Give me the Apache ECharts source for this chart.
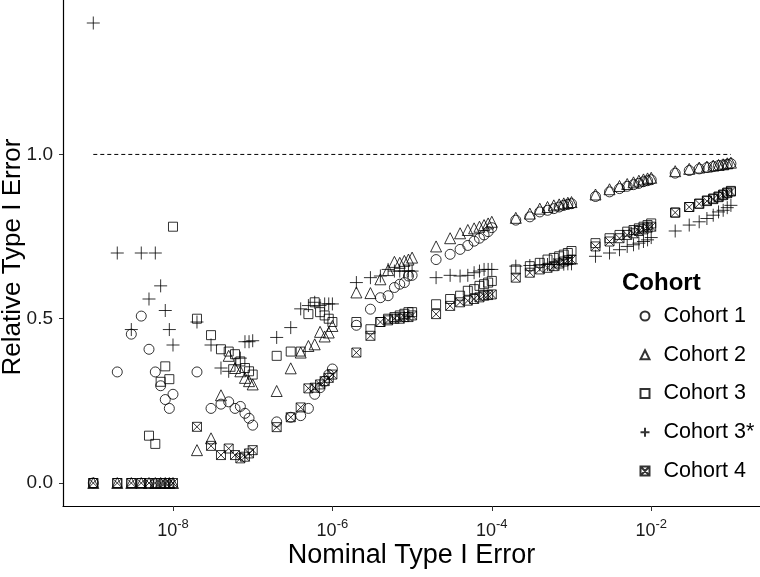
<!DOCTYPE html>
<html><head><meta charset="utf-8">
<script src="https://cdn.jsdelivr.net/npm/echarts@6/dist/echarts.min.js"></script>
<style>html,body{margin:0;padding:0;background:#fff}#c{width:760px;height:577px}</style>
</head><body><div id="c"></div>
<script>
const nominal = [
  1e-9,2e-9,3e-9,4e-9,5e-9,6e-9,7e-9,8e-9,9e-9,
  1e-8,2e-8,3e-8,4e-8,5e-8,6e-8,7e-8,8e-8,9e-8,
  1e-7,2e-7,3e-7,4e-7,5e-7,6e-7,7e-7,8e-7,9e-7,
  1e-6,2e-6,3e-6,4e-6,5e-6,6e-6,7e-6,8e-6,9e-6,
  1e-5,2e-5,3e-5,4e-5,5e-5,6e-5,7e-5,8e-5,9e-5,
  1e-4,2e-4,3e-4,4e-4,5e-4,6e-4,7e-4,8e-4,9e-4,
  1e-3,2e-3,3e-3,4e-3,5e-3,6e-3,7e-3,8e-3,9e-3,
  1e-2,2e-2,3e-2,4e-2,5e-2,6e-2,7e-2,8e-2,9e-2,
  1e-1
];
const cohort1 = [
  0,0.338,0.453,0.508,0.407,0.338,0.296,0.254,0.227,
  0.27,0.338,0.227,0.24,0.247,0.227,0.233,0.212,0.197,
  0.176,0.186,0.20,0.205,0.227,0.27,0.29,0.31,0.33,
  0.347,0.48,0.529,0.564,0.57,0.595,0.605,0.61,0.63,
  0.632,0.68,0.696,0.711,0.723,0.736,0.745,0.755,0.765,
  0.777,0.80,0.81,0.825,0.83,0.835,0.84,0.845,0.848,
  0.85,0.872,0.886,0.896,0.903,0.908,0.912,0.917,0.92,
  0.923,0.943,0.951,0.956,0.96,0.963,0.966,0.968,0.97,
  0.972
];
const cohort2 = [
  0,0,0,0,0,0,0,0,0,
  0,0.10,0.136,0.267,0.387,0.35,0.34,0.32,0.31,
  0.30,0.28,0.349,0.397,0.417,0.422,0.46,0.446,0.458,
  0.478,0.58,0.578,0.62,0.648,0.673,0.67,0.676,0.68,
  0.686,0.72,0.745,0.76,0.77,0.775,0.78,0.785,0.79,
  0.795,0.807,0.82,0.835,0.84,0.845,0.848,0.851,0.853,
  0.855,0.878,0.894,0.904,0.91,0.915,0.92,0.924,0.927,
  0.929,0.949,0.956,0.96,0.963,0.966,0.968,0.97,0.973,
  0.975
];
const cohort3 = [
  0,0,0,0,0.144,0.119,0.308,0.355,0.316,
  0.78,0.50,0.45,0.407,0.40,0.392,0.37,0.35,0.34,
  0.33,0.387,0.40,0.40,0.514,0.55,0.52,0.51,0.50,
  0.49,0.49,0.468,0.49,0.50,0.505,0.51,0.515,0.52,
  0.52,0.544,0.56,0.57,0.585,0.59,0.60,0.605,0.61,
  0.615,0.65,0.66,0.67,0.68,0.685,0.69,0.695,0.70,
  0.706,0.73,0.745,0.755,0.765,0.77,0.775,0.78,0.785,
  0.79,0.823,0.84,0.85,0.86,0.866,0.872,0.878,0.884,
  0.889
];
const cohort3s = [
  1.40,0.70,0.467,0.70,0.56,0.70,0.60,0.525,0.467,
  0.42,0.49,0.42,0.35,0.34,0.36,0.38,0.43,0.43,
  0.433,0.443,0.473,0.53,0.54,0.55,0.54,0.545,0.545,
  0.545,0.61,0.625,0.63,0.65,0.645,0.645,0.645,0.645,
  0.645,0.625,0.632,0.63,0.632,0.64,0.645,0.65,0.65,
  0.65,0.66,0.662,0.664,0.665,0.665,0.666,0.666,0.667,
  0.667,0.69,0.70,0.71,0.72,0.725,0.73,0.735,0.74,
  0.747,0.767,0.785,0.795,0.805,0.815,0.825,0.83,0.838,
  0.845
];
const cohort4 = [
  0,0,0,0,0,0,0,0,0,
  0,0.171,0.113,0.085,0.105,0.085,0.075,0.08,0.09,
  0.10,0.17,0.20,0.23,0.288,0.29,0.30,0.31,0.32,
  0.33,0.397,0.448,0.49,0.495,0.50,0.50,0.505,0.505,
  0.51,0.514,0.539,0.55,0.555,0.56,0.565,0.57,0.572,
  0.574,0.625,0.64,0.65,0.655,0.66,0.668,0.674,0.678,
  0.68,0.72,0.735,0.745,0.755,0.76,0.767,0.772,0.777,
  0.78,0.823,0.84,0.85,0.858,0.864,0.87,0.876,0.882,
  0.887
];
const seriesNames = ['Cohort 1','Cohort 2','Cohort 3','Cohort 3*','Cohort 4'];
const xTickExps = [-8,-6,-4,-2];
const yTicks = [0,0.5,1.0];
const refLevel = 1;
const xTitle = 'Nominal Type I Error';
const yTitle = 'Relative Type I Error';
const legendTitle = 'Cohort';

const chart = echarts.init(document.getElementById('c'), null, {renderer:'canvas'});
function pts(vals){ return nominal.map((a,i)=>[Math.log10(a), vals[i]]); }
const hollow = {color:'rgba(0,0,0,0)', borderColor:'#000', borderWidth:1};
const symbols = [
  ['circle',10],
  ['triangle',11],
  ['rect',9],
  ['path://M0,5L10,5M5,0L5,10',13],
  ['path://M0,0L10,0L10,10L0,10ZM0,0L10,10M10,0L0,10',9]
];
const values = [cohort1,cohort2,cohort3,cohort3s,cohort4];
const series = seriesNames.map((n,i)=>({
  name:n, type:'scatter', data:pts(values[i]),
  symbol:symbols[i][0], symbolSize:symbols[i][1],
  itemStyle:hollow, silent:true, z:3
}));
series.unshift({
  name:'ref', type:'line', data:[[Math.log10(nominal[0]),refLevel],[Math.log10(nominal[nominal.length-1]),refLevel]],
  symbol:'none', lineStyle:{color:'#000', width:1, type:[4,3]}, silent:true, z:2
});
const axisTextColor = '#1a1a1a';
const font = 'Liberation Sans, Arial, sans-serif';
chart.setOption({
  animation:false,
  grid:{left:63,right:0,top:0,bottom:71, outerBoundsMode:'none', containLabel:false},
  title:{text:legendTitle, left:617, top:266, textStyle:{fontSize:24, fontWeight:'bold', color:'#000', fontFamily:font}},
  legend:{
    data:seriesNames, orient:'vertical', left:634.5, top:299,
    itemWidth:9, itemHeight:9, itemGap:14.75,
    textStyle:{fontSize:21.5, color:'#000', lineHeight:24, fontFamily:font, padding:[0,0,0,9]},
    selectedMode:false
  },
  graphic:[
    {type:'text', x:12.6, y:257, rotation:Math.PI/2, silent:true,
     style:{text:yTitle, font:'26px '+font, fill:'#000', textAlign:'center', textVerticalAlign:'middle'}},
    {type:'text', x:411.5, y:556, silent:true,
     style:{text:xTitle, font:'27px '+font, fill:'#000', textAlign:'center', textVerticalAlign:'middle'}}
  ],
  xAxis:{
    type:'value', min:-9.38, max:-0.635,
    axisLine:{show:true, onZero:false, lineStyle:{color:'#000', width:1.2}},
    axisTick:{show:true, length:5, lineStyle:{color:'#333'}, customValues:xTickExps},
    axisLabel:{
      customValues:xTickExps, margin:12, fontSize:18, color:axisTextColor, fontFamily:font,
      formatter:v=>'{b|10}{s|'+(v<0?'-':'')+Math.abs(v)+'}',
      rich:{
        b:{fontSize:18, color:axisTextColor, fontFamily:font},
        s:{fontSize:13, color:axisTextColor, fontFamily:font, padding:[0,0,14,0]}
      }
    },
    splitLine:{show:false}
  },
  yAxis:{
    type:'value', min:-0.07, max:1.47,
    axisLine:{show:true, onZero:false, lineStyle:{color:'#000', width:1.2}},
    axisTick:{show:true, length:4, lineStyle:{color:'#333'}, customValues:yTicks},
    axisLabel:{customValues:yTicks, margin:10, fontSize:19, color:axisTextColor, fontFamily:font, formatter:v=>v.toFixed(1)},
    splitLine:{show:false}
  },
  series:series
});
</script></body></html>
